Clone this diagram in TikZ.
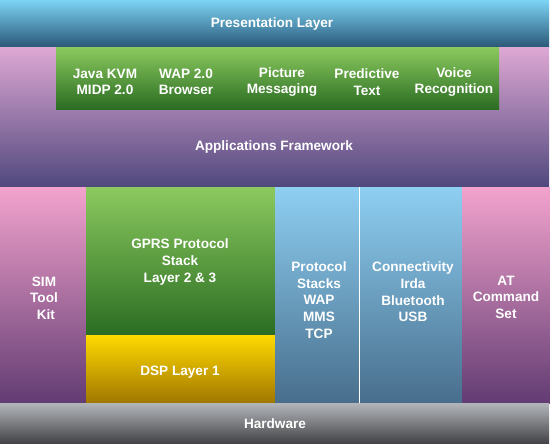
\documentclass[tikz,border=0pt]{standalone}
\usepackage{fontspec}
\setmainfont{Liberation Sans}
\definecolor{presT}{RGB}{125,212,245}
\definecolor{presB}{RGB}{42,88,120}
\definecolor{fwT}{RGB}{222,168,212}
\definecolor{fwB}{RGB}{80,72,125}
\definecolor{grT}{RGB}{140,202,95}
\definecolor{grB}{RGB}{42,108,34}
\definecolor{pkT}{RGB}{243,163,205}
\definecolor{pkB}{RGB}{98,60,115}
\definecolor{ylT}{RGB}{255,218,0}
\definecolor{ylB}{RGB}{160,118,0}
\definecolor{blT}{RGB}{142,207,242}
\definecolor{blB}{RGB}{72,110,140}
\definecolor{hwT}{RGB}{178,182,186}
\definecolor{hwB}{RGB}{68,68,72}
\tikzset{
  blk/.style={inner sep=0pt, outer sep=0pt, anchor=north west, draw=none},
  lbl/.style={text=white, inner sep=0pt, align=center,
    font=\bfseries\fontsize{13.6}{16.6}\selectfont}
}
\begin{document}
\begin{tikzpicture}[x=1pt,y=-1pt]
\useasboundingbox (0,0) rectangle (550,448);
\fill[white] (0,0) rectangle (550,448);
% blocks
\node[blk, minimum width=549pt, minimum height=47pt, top color=presT, bottom color=presB] (pres) at (0,0) {};
\node[blk, minimum width=549pt, minimum height=140pt, top color=fwT, bottom color=fwB] (fw) at (0,47) {};
\node[blk, minimum width=443pt, minimum height=62pt, top color=grT, bottom color=grB] (apps) at (56,47) {};
\node[blk, minimum width=86pt, minimum height=216pt, top color=pkT, bottom color=pkB] (sim) at (0,187) {};
\node[blk, minimum width=189pt, minimum height=148pt, top color=grT, bottom color=grB] (gprs) at (86,187) {};
\node[blk, minimum width=189pt, minimum height=68pt, top color=ylT, bottom color=ylB] (dsp) at (86,335) {};
\node[blk, minimum width=84pt, minimum height=216pt, top color=blT, bottom color=blB] (prot) at (275,187) {};
\node[blk, minimum width=102pt, minimum height=216pt, top color=blT, bottom color=blB] (conn) at (360,187) {};
\node[blk, minimum width=88pt, minimum height=216pt, top color=pkT, bottom color=pkB] (at) at (462,187) {};
\node[blk, minimum width=549pt, minimum height=40pt, top color=hwT, bottom color=hwB] (hw) at (0,403) {};
\draw[white, line width=1pt] (prot.north east) -- (prot.south east);
% labels
\node[lbl] (tpres) at (272,24) {Presentation Layer};
\node[lbl] (tjava) at (105,82) {Java KVM\\MIDP 2.0};
\node[lbl] (twap) at (186,82) {WAP 2.0\\Browser};
\node[lbl] (tpic) at (282,82) {Picture\\Messaging};
\node[lbl] (tpred) at (367,82) {Predictive\\Text};
\node[lbl] (tvoice) at (454,82) {Voice\\Recognition};
\node[lbl] (tfw) at (274,147) {Applications Framework};
\node[lbl] (tsim) at (44,298) {SIM\\Tool\\\ Kit};
\node[lbl] (tgprs) at (180,262) {GPRS Protocol\\Stack\\Layer 2 \& 3};
\node[lbl] (tdsp) at (180,372) {DSP Layer 1};
\node[lbl] (tprot) at (319,300) {Protocol\\Stacks\\WAP\\MMS\\TCP};
\node[lbl] (tconn) at (413,292) {Connectivity\\Irda\\Bluetooth\\USB};
\node[lbl] (tat) at (506,297) {AT\\Command\\Set};
\node[lbl] (thw) at (275,424) {Hardware};
\end{tikzpicture}
\end{document}
